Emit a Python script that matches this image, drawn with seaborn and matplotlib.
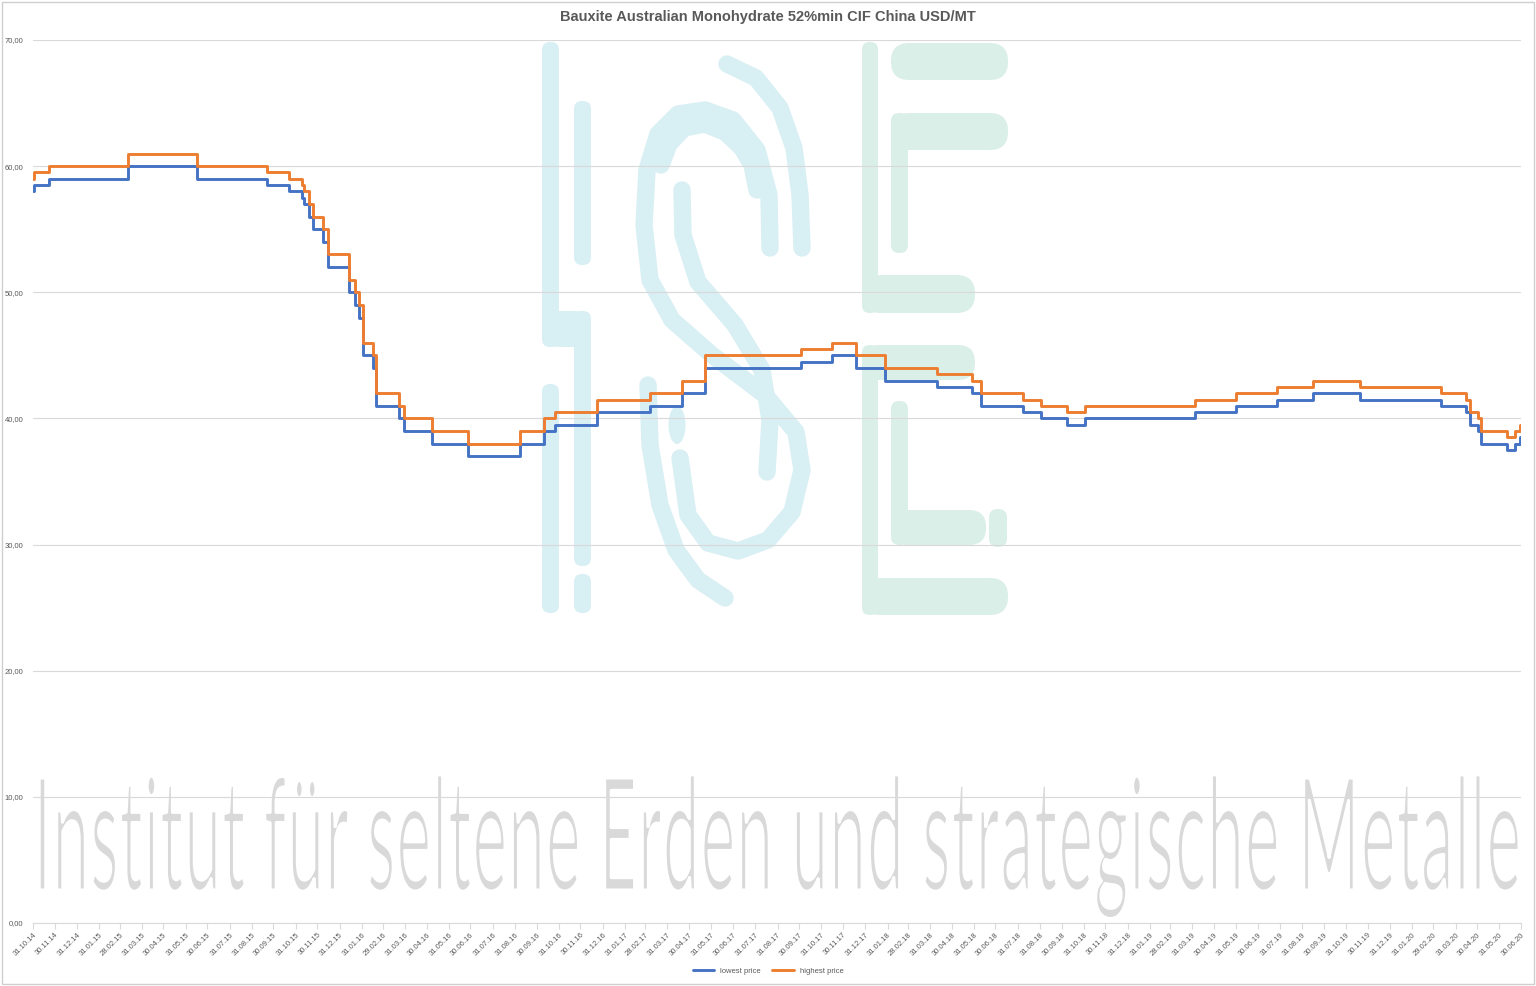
import numpy as np
import pandas as pd
import seaborn as sns
import matplotlib
matplotlib.use("Agg")
import matplotlib.pyplot as plt
import matplotlib.dates as mdates
from matplotlib.patches import FancyBboxPatch, Ellipse, Rectangle
from matplotlib.patheffects import AbstractPathEffect
from matplotlib.transforms import Affine2D
from matplotlib.font_manager import FontProperties
from matplotlib.textpath import TextPath

# change points of the price series (value holds until the next date)
dates = ["2014-10-31", "2014-11-01", "2014-11-22", "2015-03-12", "2015-06-16",
         "2015-09-21", "2015-10-21", "2015-11-09", "2015-11-12", "2015-11-19",
         "2015-11-24", "2015-12-08", "2015-12-15", "2016-01-13", "2016-01-22",
         "2016-01-27", "2016-02-01", "2016-02-15", "2016-02-20", "2016-03-23",
         "2016-03-30", "2016-05-08", "2016-06-27", "2016-09-07", "2016-10-10",
         "2016-10-26", "2016-12-23", "2017-03-06", "2017-04-20", "2017-05-22",
         "2017-10-02", "2017-11-15", "2017-12-18", "2018-01-27", "2018-04-10",
         "2018-05-28", "2018-06-10", "2018-08-08", "2018-09-01", "2018-10-08",
         "2018-11-02", "2019-04-03", "2019-05-30", "2019-07-26", "2019-09-15",
         "2019-11-19", "2020-03-11", "2020-04-15", "2020-04-20", "2020-05-01",
         "2020-05-06", "2020-06-11", "2020-06-21", "2020-06-28", "2020-06-30"]
lowest = [58, 58.5, 59, 60, 59,
          58.5, 58, 57.5, 57, 56,
          55, 54, 52, 50, 49,
          48, 45, 44, 41, 40,
          39, 38, 37, 38, 39,
          39.5, 40.5, 41, 42, 44,
          44.5, 45, 44, 43, 42.5,
          42, 41, 40.5, 40, 39.5,
          40, 40.5, 41, 41.5, 42,
          41.5, 41, 40.5, 39.5, 39,
          38, 37.5, 38, 38.5, 38.5]
highest = [59, 59.5, 60, 61, 60,
           59.5, 59, 58.5, 58, 57,
           56, 55, 53, 51, 50,
           49, 46, 45, 42, 41,
           40, 39, 38, 39, 40,
           40.5, 41.5, 42, 43, 45,
           45.5, 46, 45, 44, 43.5,
           43, 42, 41.5, 41, 40.5,
           41, 41.5, 42, 42.5, 43,
           42.5, 42, 41.5, 40.5, 40,
           39, 38.5, 39, 39.5, 39.5]

title = "Bauxite Australian Monohydrate 52%min CIF China USD/MT"
series_names = ["lowest price", "highest price"]
line_colors = ["#4472C4", "#ED7D31"]
y_ticks = [0, 10, 20, 30, 40, 50, 60, 70]
y_labels = ["0,00", "10,00", "20,00", "30,00", "40,00", "50,00", "60,00", "70,00"]
x_start, x_end = "2014-10-31", "2020-06-30"
watermark = "Institut für seltene Erden und strategische Metalle"

df = pd.DataFrame({"date": pd.to_datetime(dates),
                   series_names[0]: lowest,
                   series_names[1]: highest})
long_df = df.melt(id_vars="date", var_name="series", value_name="price")

sns.set_style("white")
plt.rcParams["font.family"] = ["Liberation Sans", "DejaVu Sans"]

W, H = 1536, 986
fig = plt.figure(figsize=(W / 100, H / 100), dpi=100)

# background layer in pixel coordinates (watermark + logo + frame)
bg = fig.add_axes([0, 0, 1, 1], zorder=0)
bg.set_xlim(0, W)
bg.set_ylim(H, 0)
bg.axis("off")

cyan = "#d8eff4"
mint = "#dbefe9"

def bar(x0, y0, x1, y1, color):
    r = min(x1 - x0, y1 - y0) / 2 - 0.5
    bg.add_patch(FancyBboxPatch((x0, y0), x1 - x0, y1 - y0,
                                boxstyle=f"round,pad=0,rounding_size={r}",
                                fc=color, ec="none"))

# "I" part of the logo
bar(542, 42, 559, 347, cyan)
bar(542, 311, 591, 347, cyan)
bar(574, 311, 591, 566, cyan)
bar(574, 574, 591, 613, cyan)
bar(574, 101, 591, 265, cyan)
bar(542, 384, 559, 613, cyan)

# "S" part of the logo
strokes = [
    # outer top-right arc
    [(727, 64), (756, 78), (780, 108), (794, 148), (800, 195), (802, 248)],
    # main S line: top bow, left side, diagonal, bottom bowl
    [(770, 248), (769, 195), (757, 150), (733, 120), (705, 110), (678, 114),
     (658, 134), (647, 170), (644, 225), (650, 280), (672, 320), (712, 355),
     (765, 395), (796, 432), (802, 470), (792, 512), (768, 540), (738, 551),
     (708, 543), (688, 515), (680, 458)],
    # thickening of the top bow
    [(757, 190), (752, 165), (742, 148), (725, 132), (705, 124), (684, 128),
     (669, 144), (661, 165)],
    # inner S line
    [(682, 190), (683, 235), (698, 282), (735, 325), (762, 370), (770, 420),
     (767, 472)],
    # outer bottom-left arc
    [(648, 385), (650, 445), (660, 505), (676, 550), (698, 580), (725, 598)],
]
for s in strokes:
    xs, ys = zip(*s)
    bg.plot(xs, ys, color=cyan, lw=12.5, solid_capstyle="round",
            solid_joinstyle="round")
bg.add_patch(Ellipse((677, 425), 17, 38, fc=cyan, ec="none"))

# "E" parts of the logo
bar(862, 42, 878, 313, mint)
bar(862, 275, 975, 313, mint)
bar(891, 43, 1008, 80, mint)
bar(891, 113, 1008, 150, mint)
bar(891, 113, 908, 253, mint)
bar(862, 345, 878, 615, mint)
bar(862, 345, 975, 380, mint)
bar(862, 578, 1008, 615, mint)
bar(891, 401, 908, 545, mint)
bar(891, 510, 986, 545, mint)
bar(989, 509, 1007, 547, mint)


class Tall(AbstractPathEffect):
    """Draw the text taller in y around its baseline, with thinner strokes."""

    def __init__(self, sy, y0, thin):
        super().__init__()
        self.sy, self.y0, self.thin = sy, y0, thin

    def draw_path(self, renderer, gc, tpath, affine, rgbFace=None):
        st = Affine2D().translate(0, -self.y0).scale(1, self.sy).translate(0, self.y0)
        aff = affine + st
        renderer.draw_path(gc, tpath, aff, rgbFace)
        gc2 = renderer.new_gc()
        gc2.copy_properties(gc)
        gc2.set_foreground("white")
        gc2.set_linewidth(self.thin)
        gc2.set_joinstyle("round")
        renderer.draw_path(gc2, tpath, aff, None)
        gc2.restore()


# watermark: fit the plot width, then stretch to a cap height of ~112 px
wm_font = FontProperties(family=["Lato", "DejaVu Sans"])
wm = bg.text(33, 890, watermark, color="#d9d9d9", fontproperties=wm_font,
             fontsize=50, ha="left", va="baseline")
fig.canvas.draw()
wext = wm.get_window_extent(fig.canvas.get_renderer())
wm_size = 50 * 1488 / wext.width
wm.set_fontsize(wm_size)
cap_px = TextPath((0, 0), "I", size=wm_size, prop=wm_font).get_extents().height * 100 / 72
y0_disp = bg.transData.transform((0, 890))[1]
wm.set_path_effects([Tall(112 / cap_px, y0_disp, 2.2)])

bg.add_patch(Rectangle((2, 2), W - 4, H - 4, fill=False, ec="#cfcfcf", lw=1))

# main chart
ax = fig.add_axes([33.3 / W, 1 - 923 / H, (1521 - 33.3) / W, (923 - 40) / H],
                  zorder=1)
ax.patch.set_alpha(0)
sns.lineplot(data=long_df, x="date", y="price", hue="series",
             palette=line_colors, drawstyle="steps-post", lw=2.1,
             ax=ax, legend=True)
handles, labels = ax.get_legend_handles_labels()
ax.get_legend().remove()

ax.set_xlim(pd.Timestamp(x_start), pd.Timestamp(x_end))
ax.set_ylim(0, 70)
ax.set_yticks(y_ticks, labels=y_labels)
ax.set_xticks(pd.date_range(x_start, x_end, freq="ME"))
ax.xaxis.set_major_formatter(mdates.DateFormatter("%d.%m.%y"))
ax.grid(axis="y", color="#d9d9d9", lw=0.8)
ax.set_axisbelow(True)
for side in ["top", "right", "left"]:
    ax.spines[side].set_visible(False)
ax.spines["bottom"].set_color("#d9d9d9")
ax.tick_params(axis="y", length=0, pad=7, labelsize=5.5, labelcolor="#595959")
ax.tick_params(axis="x", length=4, width=0.8, color="#d9d9d9", pad=2,
               labelsize=5.5, labelcolor="#595959", bottom=True)
plt.setp(ax.get_xticklabels(), rotation=45, ha="right", rotation_mode="anchor")
ax.set_xlabel("")
ax.set_ylabel("")

fig.text(0.5, 1 - 17 / H, title, ha="center", va="center", fontsize=10.5,
         fontweight="bold", color="#595959")

fig.legend(handles, labels, loc="center", bbox_to_anchor=(0.5, 1 - 971 / H),
           ncol=2, frameon=False, fontsize=5.5, handlelength=2.8,
           columnspacing=1.5, labelcolor="#595959")

fig.savefig("out.png", dpi=100)
